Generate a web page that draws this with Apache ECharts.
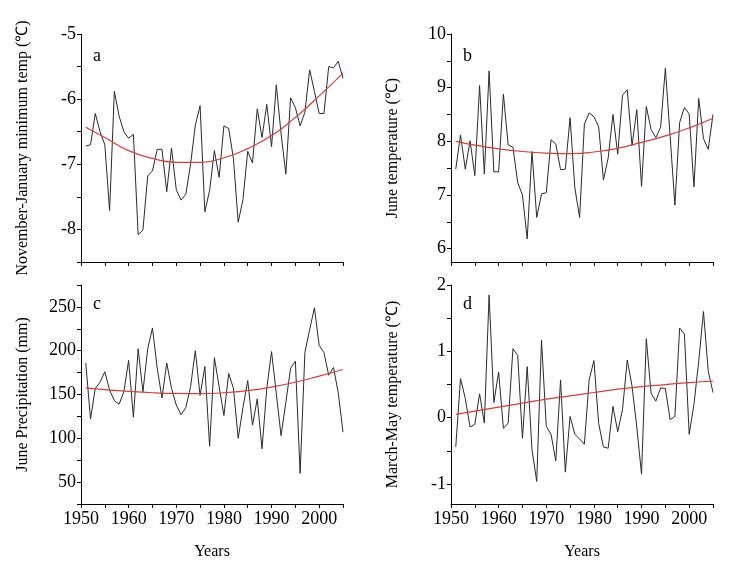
<!DOCTYPE html>
<html>
<head>
<meta charset="utf-8">
<script src="https://cdn.jsdelivr.net/npm/echarts@6/dist/echarts.min.js"></script>
<style>html,body{margin:0;padding:0;background:#fff}#c{width:748px;height:563px}</style>
</head>
<body>
<div id="c"></div>
<script>
const years = [1951,1952,1953,1954,1955,1956,1957,1958,1959,1960,1961,1962,1963,1964,1965,1966,1967,1968,1969,1970,1971,1972,1973,1974,1975,1976,1977,1978,1979,1980,1981,1982,1983,1984,1985,1986,1987,1988,1989,1990,1991,1992,1993,1994,1995,1996,1997,1998,1999,2000,2001,2002,2003,2004,2005];
const novJanMin = [-6.72,-6.70,-6.22,-6.50,-6.70,-7.71,-5.88,-6.26,-6.50,-6.60,-6.54,-8.08,-8.01,-7.18,-7.10,-6.77,-6.77,-7.42,-6.75,-7.39,-7.55,-7.46,-7.00,-6.40,-6.10,-7.73,-7.40,-6.79,-7.20,-6.41,-6.45,-6.91,-7.89,-7.54,-6.80,-6.98,-6.15,-6.59,-6.08,-6.73,-5.78,-6.53,-7.15,-5.98,-6.13,-6.41,-6.20,-5.55,-5.88,-6.22,-6.22,-5.50,-5.52,-5.42,-5.68];
const juneTemp = [7.48,8.12,7.48,8.01,7.36,9.04,7.39,9.31,7.43,7.43,8.88,7.93,7.89,7.23,7.00,6.18,7.81,6.58,7.02,7.04,8.03,7.95,7.47,7.48,8.44,7.13,6.58,8.32,8.53,8.46,8.27,7.28,7.69,8.50,7.76,8.86,8.96,7.92,8.59,7.16,8.65,8.22,8.07,8.26,9.36,8.09,6.81,8.35,8.63,8.51,7.15,8.80,8.05,7.85,8.50];
const junePrecip = [186,122,157,164,176,155,143,139,153,189,124,202,153,202,226,180,146,186,157,138,127,135,159,200,149,182,91,192,159,126,174,157,100,135,166,115,145,88,157,199,151,103,141,180,188,60,198,224,249,206,198,172,181,152,107];
const marMayTemp = [-0.44,0.59,0.29,-0.14,-0.10,0.36,-0.08,1.85,0.23,0.69,-0.16,-0.08,1.04,0.94,-0.31,0.77,-0.48,-0.96,1.17,-0.13,-0.25,-0.65,0.57,-0.82,0.02,-0.25,-0.32,-0.40,0.57,0.86,-0.09,-0.44,-0.46,0.17,-0.21,0.12,0.87,0.48,-0.14,-0.85,1.19,0.37,0.25,0.45,0.44,-0.03,0.02,1.35,1.26,-0.25,0.20,0.85,1.60,0.70,0.38];

const trendYears = [1951,1955,1960,1965,1970,1975,1980,1985,1990,1995,2000,2005];
const trendA = [-6.43,-6.59,-6.79,-6.91,-6.97,-6.97,-6.90,-6.76,-6.56,-6.28,-5.95,-5.60];
const trendB = [8.00,7.93,7.86,7.81,7.78,7.77,7.80,7.87,7.98,8.10,8.25,8.43];
const trendC = [157.5,155.5,153.5,152,151.2,151,152,154.5,158.5,164,171,178.5];
const trendD = [0.05,0.10,0.16,0.22,0.28,0.33,0.38,0.43,0.47,0.50,0.53,0.55];

const yLabelsA = [-8,-7,-6,-5];
const yTicksA = [-8.5,-8,-7.5,-7,-6.5,-6,-5.5,-5];
const yLabelsB = [6,7,8,9,10];
const yTicksB = [6,6.5,7,7.5,8,8.5,9,9.5,10];
const yLabelsC = [50,100,150,200,250];
const yTicksC = [25,50,75,100,125,150,175,200,225,250,275];
const yLabelsD = [-1,0,1,2];
const yTicksD = [-1,-0.5,0,0.5,1,1.5,2];
const xLabels = [1950,1960,1970,1980,1990,2000];
const xTicks = [1950,1955,1960,1965,1970,1975,1980,1985,1990,1995,2000,2005];

const FONT = 'Liberation Serif';
const pair = (xs, ys) => xs.map((x, i) => [x, ys[i]]);
const plain = v => String(v);

const grids = [
  {left: 81, top: 34, width: 262, height: 228},
  {left: 451, top: 34, width: 262, height: 228},
  {left: 81, top: 285, width: 262, height: 219},
  {left: 451, top: 285, width: 262, height: 219}
];

function xAxis(idx, showLabels) {
  return {
    type: 'value', gridIndex: idx, min: 1950, max: 2005,
    axisLine: {show: true, onZero: false, lineStyle: {color: '#000', width: 1}},
    axisTick: {show: true, length: 4, customValues: xTicks, lineStyle: {color: '#000'}},
    axisLabel: {show: showLabels, customValues: xLabels, formatter: plain, color: '#000', fontFamily: FONT, fontSize: 18, margin: 6},
    splitLine: {show: false},
    name: showLabels ? 'Years' : '', nameLocation: 'middle', nameGap: 40,
    nameTextStyle: {color: '#000', fontFamily: FONT, fontSize: 16}
  };
}
function yAxis(idx, min, max, labels, ticks, name) {
  return {
    type: 'value', gridIndex: idx, min: min, max: max,
    axisLine: {show: true, onZero: false, lineStyle: {color: '#000', width: 1}},
    axisTick: {show: true, length: 4, customValues: ticks, lineStyle: {color: '#000'}},
    axisLabel: {customValues: labels, formatter: plain, color: '#000', fontFamily: FONT, fontSize: 18, margin: 5},
    splitLine: {show: false},
    name: name, nameLocation: 'middle', nameGap: 50,
    nameTextStyle: {color: '#000', fontFamily: FONT, fontSize: 16}
  };
}

const lineStyleData = {color: '#2a2a2a', width: 1};
const lineStyleTrend = {color: '#d0403f', width: 1.2};
function dataSeries(idx, vals) {
  return {type: 'line', xAxisIndex: idx, yAxisIndex: idx, data: pair(years, vals), showSymbol: false, lineStyle: lineStyleData, itemStyle: {color: '#2a2a2a'}, z: 2, animation: false};
}
function trendSeries(idx, vals) {
  return {type: 'line', xAxisIndex: idx, yAxisIndex: idx, data: pair(trendYears, vals), smooth: true, showSymbol: false, lineStyle: lineStyleTrend, itemStyle: {color: '#d0403f'}, z: 3, animation: false};
}

const chart = echarts.init(document.getElementById('c'));
chart.setOption({
  backgroundColor: '#fff',
  animation: false,
  grid: grids,
  xAxis: [xAxis(0, false), xAxis(1, false), xAxis(2, true), xAxis(3, true)],
  yAxis: [
    yAxis(0, -8.5, -5, yLabelsA, yTicksA, 'November-January minimum temp (℃)'),
    yAxis(1, 5.75, 10, yLabelsB, yTicksB, 'June temperature (℃)'),
    yAxis(2, 25, 275, yLabelsC, yTicksC, 'June Precipitation (mm)'),
    yAxis(3, -1.3, 2, yLabelsD, yTicksD, 'March-May temperature (℃)')
  ],
  title: [
    {text: 'a', left: 88, top: 42, textStyle: {fontFamily: FONT, fontSize: 18, fontWeight: 'normal', color: '#000'}},
    {text: 'b', left: 458, top: 42, textStyle: {fontFamily: FONT, fontSize: 18, fontWeight: 'normal', color: '#000'}},
    {text: 'c', left: 88, top: 290, textStyle: {fontFamily: FONT, fontSize: 18, fontWeight: 'normal', color: '#000'}},
    {text: 'd', left: 458, top: 290, textStyle: {fontFamily: FONT, fontSize: 18, fontWeight: 'normal', color: '#000'}}
  ],
  series: [
    dataSeries(0, novJanMin), trendSeries(0, trendA),
    dataSeries(1, juneTemp), trendSeries(1, trendB),
    dataSeries(2, junePrecip), trendSeries(2, trendC),
    dataSeries(3, marMayTemp), trendSeries(3, trendD)
  ]
});
</script>
</body>
</html>
